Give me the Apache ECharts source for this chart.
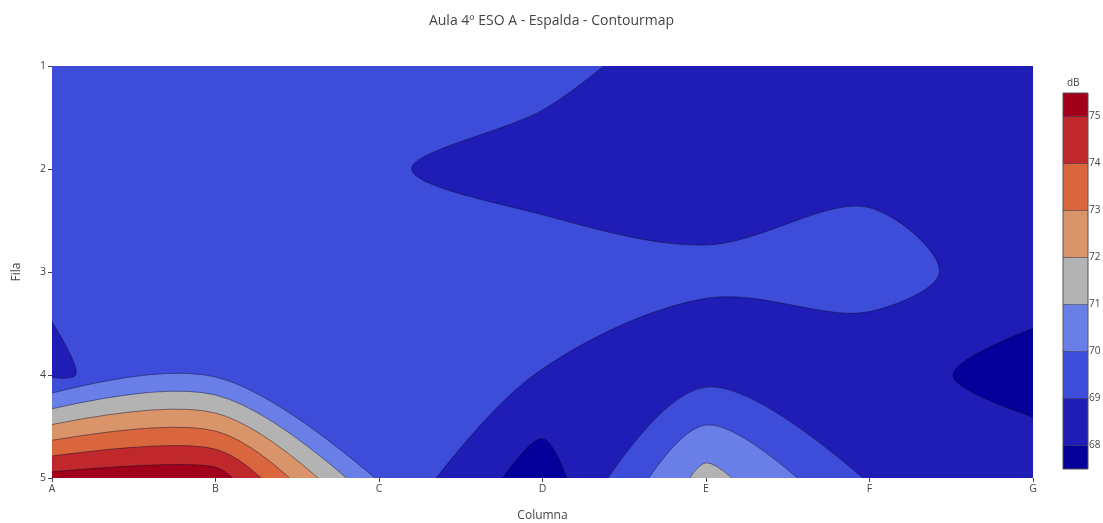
<!DOCTYPE html>
<html>
<head>
<meta charset="utf-8">
<script src="https://cdn.jsdelivr.net/npm/echarts@6/dist/echarts.min.js"></script>
<style>
  html, body { margin: 0; padding: 0; background: #fff; }
  #chart { width: 1103px; height: 523px; }
</style>
</head>
<body>
<div id="chart"></div>
<script>
// Measuring grid: columns A..G, rows (Fila) 1..5
const columns = ['A', 'B', 'C', 'D', 'E', 'F', 'G'];
const rows = [1, 2, 3, 4, 5];

// Sound level in dB at each point, one array per row
const fila1 = [69.5, 69.5, 69.5, 69.3, 68.5, 68.4, 68.5];
const fila2 = [69.5, 69.6, 69.1, 68.6, 68.69, 68.82, 68.6];
const fila3 = [69.14, 69.5, 69.5, 69.5, 69.11, 69.3, 68.6];
const fila4 = [68.85, 69.89, 69.5, 68.97, 68.68, 68.52, 67.5];
const fila5 = [75.4, 75.6, 69.86, 67.4, 71.4, 68.9, 68.72];

// Contour levels (start 68, end 75, step 1) and the fill of each band
const levels = [68, 69, 70, 71, 72, 73, 74, 75];
const bandColors = ['#05009a', '#1f1db6', '#3d4cd9', '#6a7ee7', '#b3b3b3',
                    '#d9946a', '#d9663c', '#c0292b', '#a0001a'];
const colorbarRange = [67.5, 75.5];
const colorbarTicks = [68, 69, 70, 71, 72, 73, 74, 75];

const Z = [fila1, fila2, fila3, fila4, fila5];
const NR = Z.length, NC = Z[0].length;
const W = NC - 1, H = NR - 1, PERIM = 2 * W + 2 * H;

// ---- marching squares -------------------------------------------------
function edgeInfo(type, j, i, L) {
  let a, b, p;
  if (type === 'h') { a = Z[j][i]; b = Z[j][i + 1]; p = [i + (L - a) / (b - a), j]; }
  else { a = Z[j][i]; b = Z[j + 1][i]; p = [i, j + (L - a) / (b - a)]; }
  return { key: type + j + '_' + i, pt: p,
           boundary: type === 'h' ? (j === 0 || j === H) : (i === 0 || i === W) };
}
function cross(o, a, b) { return (a[0] - o[0]) * (b[1] - o[1]) - (a[1] - o[1]) * (b[0] - o[0]); }

function traceLevel(L) {
  const segs = [];
  for (let j = 0; j < H; j++) {
    for (let i = 0; i < W; i++) {
      const c = [[i, j], [i + 1, j], [i + 1, j + 1], [i, j + 1]];
      const v = c.map(q => Z[q[1]][q[0]]);
      const hi = v.map(x => x > L);
      const edges = [['h', j, i], ['v', j, i + 1], ['h', j + 1, i], ['v', j, i]];
      const crossing = [];
      for (let k = 0; k < 4; k++) if (hi[k] !== hi[(k + 1) % 4]) crossing.push(k);
      const addSeg = (e1, e2, refCorner, refHigh) => {
        let A = edgeInfo(edges[e1][0], edges[e1][1], edges[e1][2], L);
        let B = edgeInfo(edges[e2][0], edges[e2][1], edges[e2][2], L);
        const s = cross(A.pt, B.pt, c[refCorner]);
        // high side kept on the right-hand side (screen, y down)
        if ((s > 0) !== refHigh) { const t = A; A = B; B = t; }
        segs.push({ a: A, b: B, used: false });
      };
      if (crossing.length === 2) {
        const hk = hi.indexOf(true);
        addSeg(crossing[0], crossing[1], hk, true);
      } else if (crossing.length === 4) {
        const avg = (v[0] + v[1] + v[2] + v[3]) / 4;
        const isolateHigh = L > avg;
        for (let k = 0; k < 4; k++) {
          if (hi[k] === isolateHigh) addSeg((k + 3) % 4, k, k, hi[k]);
        }
      }
    }
  }
  const byStart = {};
  segs.forEach(s => { byStart[s.a.key] = s; });
  const open = [], closed = [];
  segs.forEach(s => {
    if (s.used || !s.a.boundary) return;
    const pts = [s.a.pt];
    let cur = s;
    while (cur && !cur.used) {
      cur.used = true;
      pts.push(cur.b.pt);
      if (cur.b.boundary) break;
      cur = byStart[cur.b.key];
    }
    open.push({ pts: mergeClose(pts, false), sStart: perimS(pts[0]), sEnd: perimS(pts[pts.length - 1]) });
  });
  segs.forEach(s => {
    if (s.used) return;
    const pts = [s.a.pt];
    let cur = s;
    while (cur && !cur.used) {
      cur.used = true;
      pts.push(cur.b.pt);
      cur = byStart[cur.b.key];
    }
    pts.pop();
    closed.push(mergeClose(pts, true));
  });
  return { open, closed, allHigh: Z[0][0] > L };
}

function dist(p, q) { return Math.hypot(p[0] - q[0], p[1] - q[1]); }
function mergeClose(pts, isClosed) {
  if (pts.length < 3) return pts;
  let total = 0;
  for (let k = 1; k < pts.length; k++) total += dist(pts[k], pts[k - 1]);
  const thr = 0.2 * total / (pts.length - 1);
  const out = [pts[0]];
  for (let k = 1; k < pts.length; k++) {
    const p = pts[k], last = out[out.length - 1];
    if (dist(p, last) < thr) {
      if (k === pts.length - 1 && !isClosed) {
        if (out.length > 1) out[out.length - 1] = p; else out.push(p);
      } else if (out.length === 1 && !isClosed) {
        // keep the open path's first end point
      } else {
        out[out.length - 1] = [(p[0] + last[0]) / 2, (p[1] + last[1]) / 2];
      }
    } else out.push(p);
  }
  return out;
}

function perimS(p) {
  const e = 1e-9;
  if (Math.abs(p[1]) < e) return p[0];
  if (Math.abs(p[0] - W) < e) return W + p[1];
  if (Math.abs(p[1] - H) < e) return W + H + (W - p[0]);
  return 2 * W + H + (H - p[1]);
}
const perimCorners = [[0, 0, 0], [W, 0, W], [W, H, W + H], [0, H, 2 * W + H]];

// ---- Catmull-Rom style smoothing (smoothing = 1) -----------------------
function tangent(p0, p1, p2, sm) {
  const d1x = p0[0] - p1[0], d1y = p0[1] - p1[1];
  const d2x = p2[0] - p1[0], d2y = p2[1] - p1[1];
  const d1a = Math.pow(d1x * d1x + d1y * d1y, 0.25);
  const d2a = Math.pow(d2x * d2x + d2y * d2y, 0.25);
  const nx = (d2a * d2a * d1x - d1a * d1a * d2x) * sm;
  const ny = (d2a * d2a * d1y - d1a * d1a * d2y) * sm;
  const den1 = 3 * d2a * (d1a + d2a), den2 = 3 * d1a * (d1a + d2a);
  return [[p1[0] + (den1 && nx / den1), p1[1] + (den1 && ny / den1)],
          [p1[0] - (den2 && nx / den2), p1[1] - (den2 && ny / den2)]];
}
const f = p => p[0].toFixed(2) + ' ' + p[1].toFixed(2);
function smoothOpen(pts) {
  if (pts.length < 3) return 'M' + pts.map(f).join('L');
  const t = [];
  for (let i = 1; i < pts.length - 1; i++) t.push(tangent(pts[i - 1], pts[i], pts[i + 1], 1));
  let d = 'M' + f(pts[0]) + 'Q' + f(t[0][0]) + ' ' + f(pts[1]);
  for (let i = 2; i < pts.length - 1; i++) d += 'C' + f(t[i - 2][1]) + ' ' + f(t[i - 1][0]) + ' ' + f(pts[i]);
  d += 'Q' + f(t[pts.length - 3][1]) + ' ' + f(pts[pts.length - 1]);
  return d;
}
function smoothClosed(pts) {
  if (pts.length < 3) return 'M' + pts.map(f).join('L') + 'Z';
  const n = pts.length, t = [];
  for (let i = 0; i < n; i++) t.push(tangent(pts[(i - 1 + n) % n], pts[i], pts[(i + 1) % n], 1));
  let d = 'M' + f(pts[0]);
  for (let i = 1; i <= n; i++) d += 'C' + f(t[i - 1][1]) + ' ' + f(t[i % n][0]) + ' ' + f(pts[i % n]);
  return d + 'Z';
}

const contours = levels.map(traceLevel);

function renderContours(params, api) {
  const px = p => api.coord([p[0], p[1] + 1]);
  const children = [];
  const tl = api.coord([0, 1]), br = api.coord([W, H + 1]);
  children.push({ type: 'rect', shape: { x: tl[0], y: tl[1], width: br[0] - tl[0], height: br[1] - tl[1] },
                  style: { fill: bandColors[0] } });
  const lineParts = [];
  contours.forEach((ct, li) => {
    let d = '';
    const used = ct.open.map(() => false);
    for (let k = 0; k < ct.open.length; k++) {
      if (used[k]) continue;
      let cur = k, first = true;
      while (!used[cur]) {
        used[cur] = true;
        const seg = smoothOpen(ct.open[cur].pts.map(px));
        d += first ? seg : seg.replace(/^M/, 'L');
        first = false;
        const sEnd = ct.open[cur].sEnd;
        let best = -1, bestD = Infinity;
        ct.open.forEach((o, m) => {
          const dd = ((o.sStart - sEnd) % PERIM + PERIM) % PERIM;
          if (dd < bestD) { bestD = dd; best = m; }
        });
        perimCorners
          .map(c => ({ c, dd: ((c[2] - sEnd) % PERIM + PERIM) % PERIM }))
          .filter(o => o.dd > 0 && o.dd < bestD)
          .sort((a, b) => a.dd - b.dd)
          .forEach(o => { d += 'L' + f(px([o.c[0], o.c[1]])); });
        cur = best;
      }
      d += 'Z';
    }
    if (!ct.open.length && ct.allHigh) {
      d += 'M' + perimCorners.map(c => f(px([c[0], c[1]]))).join('L') + 'Z';
    }
    ct.closed.forEach(pts => { d += smoothClosed(pts.map(px)); });
    if (d) children.push({ type: 'path', shape: { pathData: d }, style: { fill: bandColors[li + 1] } });
    ct.open.forEach(o => lineParts.push(smoothOpen(o.pts.map(px))));
    ct.closed.forEach(pts => lineParts.push(smoothClosed(pts.map(px))));
  });
  children.push({ type: 'path', shape: { pathData: lineParts.join('') },
                  style: { fill: null, stroke: 'rgba(10,10,40,0.75)', lineWidth: 0.6 } });
  return { type: 'group', children };
}

// colorbar bands between consecutive bounds
const cbBounds = [colorbarRange[0]].concat(levels, [colorbarRange[1]]);
const cbData = bandColors.map((c, i) => [cbBounds[i], cbBounds[i + 1]]);

function renderColorbar(params, api) {
  const lo = api.value(0), hi = api.value(1);
  const a = api.coord([0, hi]), b = api.coord([1, lo]);
  const children = [{ type: 'rect', shape: { x: a[0], y: a[1], width: b[0] - a[0], height: b[1] - a[1] },
                      style: { fill: bandColors[params.dataIndex] } }];
  if (params.dataIndex > 0) {
    children.push({ type: 'line', shape: { x1: a[0], y1: b[1], x2: b[0], y2: b[1] },
                    style: { stroke: 'rgba(10,10,40,0.75)', lineWidth: 0.6 } });
  }
  if (params.dataIndex === bandColors.length - 1) {
    const t = api.coord([0, colorbarRange[1]]), u = api.coord([1, colorbarRange[0]]);
    children.push({ type: 'rect', shape: { x: t[0], y: t[1], width: u[0] - t[0], height: u[1] - t[1] },
                    style: { fill: null, stroke: '#555', lineWidth: 1 } });
  }
  return { type: 'group', children };
}

const font = '"Open Sans", "DejaVu Sans", sans-serif';
const chart = echarts.init(document.getElementById('chart'));
chart.setOption({
  animation: false,
  backgroundColor: '#fff',
  title: [
    { text: 'Aula 4º ESO A - Espalda - Contourmap', left: 'center', top: 9,
      textStyle: { fontFamily: font, fontSize: 14, fontWeight: 'normal', color: '#444' } },
    { text: 'dB', left: 1062, top: 73,
      textStyle: { fontFamily: font, fontSize: 10, fontWeight: 'normal', color: '#444' } }
  ],
  grid: [
    { left: 52, right: 70, top: 66, bottom: 45, outerBoundsMode: 'none' },
    { left: 1063, top: 93, width: 25, height: 376, outerBoundsMode: 'none' }
  ],
  xAxis: [
    { type: 'value', gridIndex: 0, min: 0, max: columns.length - 1, interval: 1,
      name: 'Columna', nameLocation: 'middle', nameGap: 32,
      nameTextStyle: { fontFamily: font, fontSize: 12, color: '#444' },
      axisLine: { show: false }, splitLine: { show: false },
      axisTick: { show: true, length: 4, lineStyle: { color: '#444' } },
      axisLabel: { formatter: v => columns[v], margin: 6, fontFamily: font, fontSize: 10.5, color: '#444' } },
    { type: 'value', gridIndex: 1, min: 0, max: 1, show: false }
  ],
  yAxis: [
    { type: 'value', gridIndex: 0, min: rows[0], max: rows[rows.length - 1], interval: 1, inverse: true,
      name: 'Fila', nameLocation: 'middle', nameGap: 29,
      nameTextStyle: { fontFamily: font, fontSize: 12, color: '#444' },
      axisLine: { show: false }, splitLine: { show: false },
      axisTick: { show: true, length: 4, lineStyle: { color: '#444' } },
      axisLabel: { margin: 6, fontFamily: font, fontSize: 10.5, color: '#444' } },
    { type: 'value', gridIndex: 1, min: colorbarRange[0], max: colorbarRange[1], position: 'right',
      axisLine: { show: false }, splitLine: { show: false },
      axisTick: { show: true, length: 2, customValues: colorbarTicks, lineStyle: { color: '#444' } },
      axisLabel: { customValues: colorbarTicks, margin: 1, fontFamily: font, fontSize: 10, color: '#444' } }
  ],
  series: [
    { type: 'custom', name: 'dB', xAxisIndex: 0, yAxisIndex: 0, clip: true, silent: true,
      data: [[0, rows[0]]], renderItem: renderContours },
    { type: 'custom', name: 'colorbar', xAxisIndex: 1, yAxisIndex: 1, silent: true,
      data: cbData, encode: { y: [0, 1] }, renderItem: renderColorbar }
  ]
});
</script>
</body>
</html>
